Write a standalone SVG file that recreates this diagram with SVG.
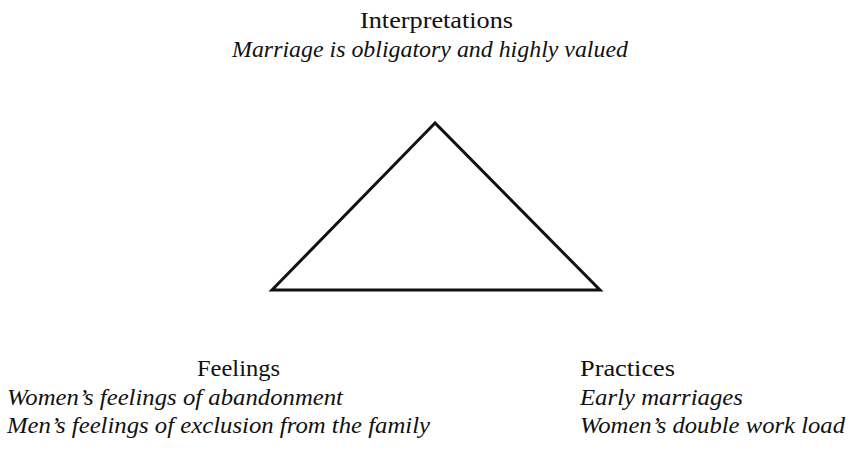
<svg xmlns="http://www.w3.org/2000/svg" width="854" height="452" viewBox="0 0 854 452">
<style>
.t{font-style:normal}
.i{font-style:italic}
</style>
<rect width="854" height="452" fill="#fff"/>
<g id="connectors">
<polygon points="435,123 272,290 600,290" fill="none" stroke="#111" stroke-width="3" stroke-linejoin="miter"/>
</g>
<g font-family="'Liberation Serif', 'Times New Roman', serif" font-size="24" fill="#111">
<g id="interpretations">
<text class="t" x="360" y="28" textLength="153" lengthAdjust="spacingAndGlyphs">Interpretations</text>
<text class="i" font-style="italic" x="232" y="57" textLength="396" lengthAdjust="spacingAndGlyphs">Marriage is obligatory and highly valued</text>
</g>
<g id="feelings">
<text class="t" x="197" y="376" textLength="83" lengthAdjust="spacingAndGlyphs">Feelings</text>
<text class="i" font-style="italic" x="7" y="405" textLength="336" lengthAdjust="spacingAndGlyphs">Women’s feelings of abandonment</text>
<text class="i" font-style="italic" x="7" y="433" textLength="423" lengthAdjust="spacingAndGlyphs">Men’s feelings of exclusion from the family</text>
</g>
<g id="practices">
<text class="t" x="580" y="376" textLength="95" lengthAdjust="spacingAndGlyphs">Practices</text>
<text class="i" font-style="italic" x="580" y="405" textLength="163" lengthAdjust="spacingAndGlyphs">Early marriages</text>
<text class="i" font-style="italic" x="580" y="433" textLength="265" lengthAdjust="spacingAndGlyphs">Women’s double work load</text>
</g>
</g>
</svg>
